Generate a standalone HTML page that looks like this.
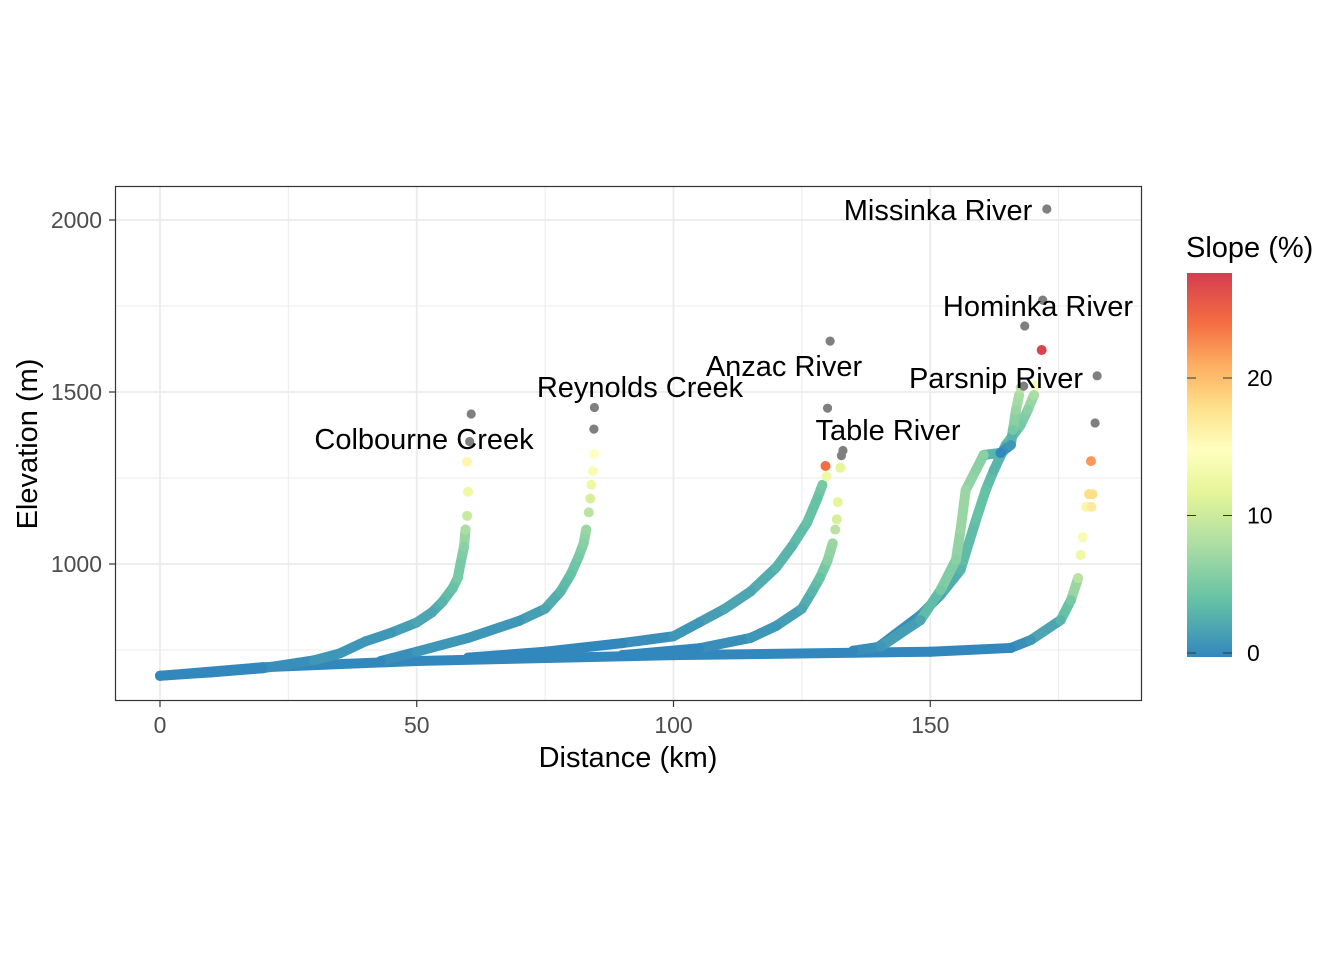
<!DOCTYPE html>
<html><head><meta charset="utf-8"><style>
body{margin:0;background:#fff;font-family:"Liberation Sans",Arial,sans-serif}
svg text{font-family:"Liberation Sans",Arial,sans-serif}
</style></head><body>
<svg id="chart" width="1344" height="960" xmlns="http://www.w3.org/2000/svg">
<defs><linearGradient id="cb" x1="0" y1="1" x2="0" y2="0">
<stop offset="0" stop-color="#3288bd"/><stop offset="0.15" stop-color="#66c2a5"/><stop offset="0.29" stop-color="#abdda4"/><stop offset="0.43" stop-color="#e6f598"/><stop offset="0.54" stop-color="#ffffbf"/><stop offset="0.65" stop-color="#fee08b"/><stop offset="0.76" stop-color="#fdae61"/><stop offset="0.87" stop-color="#f46d43"/><stop offset="1" stop-color="#d53e4f"/></linearGradient></defs>
<rect x="115" y="186" width="1027" height="515" fill="#fff"/>
<g id="grid"></g><g id="marks"></g><g id="labels"></g>
<rect x="115.5" y="186.5" width="1026" height="514" fill="none" stroke="#333" stroke-width="1.2"/>
<g id="axes"></g>
<text x="628" y="767" font-size="29" text-anchor="middle">Distance (km)</text>
<text transform="translate(37,444) rotate(-90)" font-size="29" text-anchor="middle">Elevation (m)</text>
<g>
<text x="1186" y="257" font-size="29">Slope (%)</text>
<rect x="1187" y="273" width="45" height="384" fill="url(#cb)"/>
<g id="cbticks"></g></g>
</svg>
<script>
const xTicks=[0,50,100,150];
const yTicks=[1000,1500,2000];
const legendTicks=[0,10,20];
const colbourne=[[0,675,0],[10,685,0],[20,697,0],[30,720,1],[35,740,1],[40,775,1],[45,800,1],[50,830,2],[53,860,2],[55,890,3],[57,930,4],[58,960,5],[58.5,1000,5],[59.2,1050,6],[59.5,1100,8],[59.8,1140,10],[60,1210,13],[59.8,1297,16]];
const reynolds=[[43,718,0],[50,745,1],[60,785,1],[70,835,1],[75,870,2],[78,920,3],[80,970,4],[81.5,1020,5],[82.5,1060,6],[83,1100,7],[83.5,1150,9],[83.8,1190,11],[84,1230,13],[84.3,1270,14],[84.5,1320,15]];
const mainstem=[[0,675,0],[20,700,0],[50,718,0],[100,735,0],[150,745,0],[165.7,756,0],[169.6,779,1],[175.4,837,3],[177.4,895,5],[178.8,959,9],[179.3,1026,13],[179.7,1078,14],[180.3,1166,16],[180.9,1203,18],[181.3,1299,22]];
const anzac=[[60,728,0],[75,745,0],[90,770,0],[100,790,1],[105,830,1],[110,870,2],[115,920,2],[120,990,3],[123,1050,3],[126,1120,4],[128,1190,4],[129,1230,5],[129.8,1255,13],[129.6,1285,24]];
const table=[[90,735,0],[105,755,0],[115,785,1],[120,820,1],[125,870,2],[127,920,3],[128.5,960,4],[130,1010,6],[131,1060,7],[131.5,1100,9],[131.8,1130,11],[132,1180,12],[132.5,1280,12]];
const hominka=[[135,748,0],[140.4,760,1],[148.1,837,2],[152,924,5],[155,1012,6],[155.9,1099,7],[156.9,1215,7],[158.9,1273,6],[160.4,1317,6],[163.7,1323,0],[165.7,1346,1],[166.1,1390,5],[166.7,1448,7],[167.3,1491,8],[167.6,1512,9]];
const parsnip=[[140,760,0],[148,850,1],[152,910,2],[155.9,983,3],[158.9,1128,4],[160.8,1215,4],[162.4,1273,3],[164.7,1346,3],[167.6,1404,5],[169,1448,6],[170.2,1491,8],[170.6,1520,14]];
const extraDots=[[171.7,1622,27],[181.6,1203,18],[181.4,1166,17]];
const endpoints=[[60.6,1436],[60.3,1356],[84.6,1455],[84.5,1392],[130.5,1648],[130,1453],[132.7,1315],[133,1330],[168.4,1692],[171.9,1767],[172.7,2032],[168.2,1517],[182.1,1410],[182.5,1547]];
const riverLabels=["Missinka River","Hominka River","Parsnip River","Anzac River","Reynolds Creek","Table River","Colbourne Creek"];
const labelCenter=[[938,210],[1038,306],[996,378],[784,366],[640,387],[888,430],[424,439]];

const X=v=>160+v*5.135, Y=v=>220+(2000-v)*0.344;
const stops=[[0,[50,136,189]],[4,[102,194,165]],[8,[171,221,164]],[12,[230,245,152]],[15,[255,255,191]],[18,[254,224,139]],[21,[253,174,97]],[24,[244,109,67]],[27.5,[213,62,79]]];
function col(s){for(let i=1;i<stops.length;i++){if(s<=stops[i][0]){const a=stops[i-1],b=stops[i],t=(s-a[0])/(b[0]-a[0]);return 'rgb('+a[1].map((c,k)=>Math.round(c+(b[1][k]-c)*t)).join(',')+')';}}return 'rgb(213,62,79)';}
const NS='http://www.w3.org/2000/svg';
function mk(tag,attrs,parent){const e=document.createElementNS(NS,tag);for(const k in attrs)e.setAttribute(k,attrs[k]);parent.appendChild(e);return e;}
const grid=document.getElementById('grid'),marks=document.getElementById('marks'),axes=document.getElementById('axes'),labels=document.getElementById('labels');
[25,75,125,175].forEach(v=>{const l=mk('line',{x1:X(v),x2:X(v),y1:187,y2:700,stroke:'#ebebeb','stroke-width':1},grid);});
[750,1250,1750].forEach(v=>{const l=mk('line',{x1:116,x2:1141,y1:Y(v),y2:Y(v),stroke:'#ebebeb','stroke-width':1},grid);});
xTicks.forEach(v=>{const l=mk('line',{x1:X(v),x2:X(v),y1:187,y2:700,stroke:'#ebebeb','stroke-width':1.8},grid);
const t=mk('line',{x1:X(v),x2:X(v),y1:701,y2:707,stroke:'#333','stroke-width':1.2},axes);
const tx=mk('text',{x:X(v),y:733,'font-size':23,fill:'#4d4d4d','text-anchor':'middle'},axes);tx.textContent=v;});
yTicks.forEach(v=>{const l=mk('line',{x1:116,x2:1141,y1:Y(v),y2:Y(v),stroke:'#ebebeb','stroke-width':1.8},grid);
const t=mk('line',{x1:109,x2:115,y1:Y(v),y2:Y(v),stroke:'#333','stroke-width':1.2},axes);
const tx=mk('text',{x:102,y:Y(v)+8,'font-size':23,fill:'#4d4d4d','text-anchor':'end'},axes);tx.textContent=v;});
const rivers=[['mainstem',mainstem],['colbourne',colbourne],['reynolds',reynolds],['table',table],['anzac',anzac],['parsnip',parsnip],['hominka',hominka]];
rivers.forEach(([nm,pts])=>{for(let i=1;i<pts.length;i++){const a=pts[i-1],b=pts[i];
if((a[2]+b[2])/2<8){const s=mk('line',{x1:X(a[0]),y1:Y(a[1]),x2:X(b[0]),y2:Y(b[1]),stroke:col((a[2]+b[2])/2),'stroke-width':10,'stroke-linecap':'round'},marks);}}
pts.forEach(p=>{const c=mk('circle',{cx:X(p[0]),cy:Y(p[1]),r:5,fill:col(p[2])},marks);});});
extraDots.forEach(p=>{const c=mk('circle',{cx:X(p[0]),cy:Y(p[1]),r:5,fill:col(p[2])},marks);});
endpoints.forEach(p=>{const c=mk('circle',{cx:X(p[0]),cy:Y(p[1]),r:4.6,fill:'#7f7f7f'},marks);});
riverLabels.forEach((s,i)=>{const t=mk('text',{x:labelCenter[i][0],y:labelCenter[i][1]+10,'font-size':29,'text-anchor':'middle'},labels);t.textContent=s;});
const cbt=document.getElementById('cbticks');
legendTicks.forEach(v=>{const y=653-v*13.75;
[[1187,1196],[1223,1232]].forEach(([a,b])=>{const l=mk('line',{x1:a,x2:b,y1:y,y2:y,stroke:'#333','stroke-width':1},cbt);});
const t=mk('text',{x:1247,y:y+8,'font-size':23,fill:'#000'},cbt);t.textContent=v;});
</script>
</body></html>
